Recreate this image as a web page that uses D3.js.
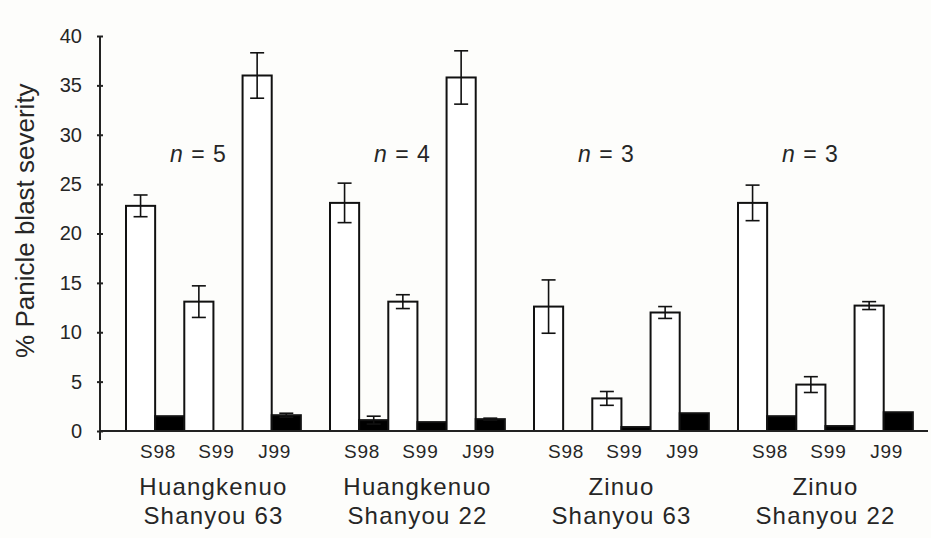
<!DOCTYPE html>
<html>
<head>
<meta charset="utf-8">
<script src="https://cdn.jsdelivr.net/npm/d3@7"></script>
<style>
  body { margin: 0; background: #fdfdfb; }
  text { font-family: "Liberation Sans", Arial, sans-serif; fill: #262626; }
</style>
</head>
<body>
<div id="chart-area"></div>
<script>
// cultivar mixtures (two lines of label each)
var groupTop = ["Huangkenuo", "Huangkenuo", "Zinuo", "Zinuo"];
var groupBottom = ["Shanyou 63", "Shanyou 22", "Shanyou 63", "Shanyou 22"];
var nValues = [5, 4, 3, 3];
var seasons = ["S98", "S99", "J99"];
var yTicks = [0, 5, 10, 15, 20, 25, 30, 35, 40];

// open bars (first bar of each pair) and solid bars, mean and error
var openMean = [[22.8, 13.1, 36.0], [23.1, 13.1, 35.8], [12.6, 3.3, 12.0], [23.1, 4.7, 12.7]];
var openErr  = [[1.1, 1.6, 2.3], [2.0, 0.7, 2.7], [2.7, 0.7, 0.6], [1.8, 0.8, 0.4]];
var solidMean = [[1.5, 0.0, 1.6], [1.1, 0.9, 1.2], [0.0, 0.4, 1.8], [1.5, 0.5, 1.9]];
var solidErr  = [[0, 0, 0.2], [0.4, 0, 0.1], [0, 0, 0], [0, 0, 0]];

var width = 931, height = 538;

var svg = d3.select("#chart-area")
  .append("svg")
    .attr("width", width)
    .attr("height", height);

var groupIds = d3.range(groupTop.length);
var slots = [];
seasons.forEach(function(s) { slots.push(s + "-open"); slots.push(s + "-solid"); });

var x0 = d3.scaleBand()
  .domain(groupIds)
  .range([126, 942]);

var x1 = d3.scaleBand()
  .domain(slots)
  .range([0, x0.bandwidth() * 6 / 7]);

var y = d3.scaleLinear()
  .domain([0, 40])
  .range([431, 36]);

// flatten the arrays into bars
var bars = [];
groupIds.forEach(function(g) {
  seasons.forEach(function(s, i) {
    bars.push({g: g, key: s + "-open", v: openMean[g][i], e: openErr[g][i], solid: false});
    bars.push({g: g, key: s + "-solid", v: solidMean[g][i], e: solidErr[g][i], solid: true});
  });
});

// Y axis
var yAxis = svg.append("g")
  .attr("transform", "translate(100,0)")
  .call(d3.axisLeft(y).tickValues(yTicks).tickSize(3).tickPadding(15));
yAxis.select(".domain").remove();
yAxis.selectAll(".tick line")
  .attr("x1", 3)
  .attr("stroke", "#222")
  .attr("stroke-width", 2);
yAxis.selectAll(".tick text")
  .style("font-size", "20px")
  .style("font-family", "Liberation Sans, Arial, sans-serif")
  .attr("fill", "#262626");

svg.append("line")
  .attr("x1", 100).attr("x2", 100)
  .attr("y1", y(40)).attr("y2", y(0) + 9)
  .attr("stroke", "#222").attr("stroke-width", 2);

svg.append("text")
  .attr("transform", "translate(34," + y(21.3) + ")rotate(-90)")
  .attr("text-anchor", "middle")
  .style("font-size", "26px")
  .text("% Panicle blast severity");

// Bars
svg.selectAll("rect.bar")
  .data(bars)
  .enter()
  .append("rect")
    .attr("class", "bar")
    .attr("x", function(d) { return x0(d.g) + x1(d.key); })
    .attr("y", function(d) { return y(d.v); })
    .attr("width", x1.bandwidth())
    .attr("height", function(d) { return y(0) - y(d.v); })
    .attr("fill", function(d) { return d.solid ? "#000" : "#fff"; })
    .attr("stroke", function(d) { return d.v > 0 ? "#111" : "none"; })
    .attr("stroke-width", 2);

// error bars
var errs = svg.selectAll("g.err")
  .data(bars.filter(function(d) { return d.e > 0; }))
  .enter()
  .append("g")
    .attr("class", "err")
    .attr("transform", function(d) {
      return "translate(" + (x0(d.g) + x1(d.key) + x1.bandwidth() / 2) + ",0)";
    });

errs.append("line")
  .attr("y1", function(d) { return y(d.v + d.e); })
  .attr("y2", function(d) { return y(d.v - d.e); })
  .attr("stroke", "#111").attr("stroke-width", 1.6);
errs.append("line")
  .attr("x1", -7).attr("x2", 7)
  .attr("y1", function(d) { return y(d.v + d.e); })
  .attr("y2", function(d) { return y(d.v + d.e); })
  .attr("stroke", "#111").attr("stroke-width", 1.6);
errs.append("line")
  .attr("x1", -7).attr("x2", 7)
  .attr("y1", function(d) { return y(d.v - d.e); })
  .attr("y2", function(d) { return y(d.v - d.e); })
  .attr("stroke", "#111").attr("stroke-width", 1.6);

// baseline
svg.append("line")
  .attr("x1", 100).attr("x2", 928)
  .attr("y1", y(0)).attr("y2", y(0))
  .attr("stroke", "#222").attr("stroke-width", 2);

// season labels under each pair
groupIds.forEach(function(g) {
  svg.selectAll(null)
    .data(seasons)
    .enter()
    .append("text")
      .attr("x", function(s) { return x0(g) + x1(s + "-solid") + 3; })
      .attr("y", 458)
      .attr("text-anchor", "middle")
      .style("font-size", "19px")
      .style("letter-spacing", "0.8px")
      .text(function(s) { return s; });
});

// group labels
var gl = svg.selectAll("g.glabel")
  .data(groupIds)
  .enter()
  .append("g")
    .attr("class", "glabel")
    .attr("transform", function(g) { return "translate(" + (x0(g) + x1.range()[1] / 2) + ",0)"; });

gl.append("text")
  .attr("y", 495)
  .attr("text-anchor", "middle")
  .style("font-size", "24px")
  .style("letter-spacing", "1.2px")
  .text(function(g) { return groupTop[g]; });

gl.append("text")
  .attr("y", 524)
  .attr("text-anchor", "middle")
  .style("font-size", "24px")
  .style("letter-spacing", "1.2px")
  .text(function(g) { return groupBottom[g]; });

// n = labels
var nl = gl.append("text")
  .attr("x", -15)
  .attr("y", 162)
  .attr("text-anchor", "middle")
  .style("font-size", "23px")
  .style("letter-spacing", "1px");
nl.append("tspan").style("font-style", "italic").text("n");
nl.append("tspan").text(function(g) { return " = " + nValues[g]; });
</script>
</body>
</html>
